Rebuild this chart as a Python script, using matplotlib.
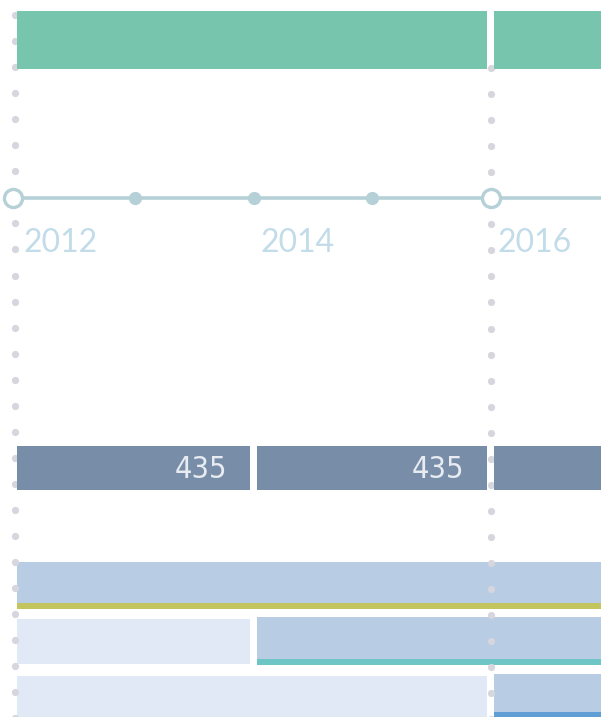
import numpy as np
import matplotlib.pyplot as plt
from matplotlib import font_manager

# timeline
tick_years = [2013, 2014, 2015]
major_years = [2012, 2016]
label_years = [2012, 2014, 2016]

# top green band
green_starts = [2012, 2016]
green_ends = [2016, 2017]

# dark band with values
dark_starts = [2012, 2014, 2016]
dark_ends = [2014, 2016, 2017]
dark_values = [435, 435, None]

# lower rows: (start, end, shade, stripe)
row_a = [(2012, 2017, 'mid', '#c2c45e')]
row_b = [(2012, 2014, 'light', None), (2014, 2017, 'mid', '#6ec5c6')]
row_c = [(2012, 2016, 'light', None), (2016, 2017, 'mid', '#5f9fd6')]

shades = {'light': '#e0e9f5', 'mid': '#b8cce4'}

PX_PER_YEAR = 118.5
X0 = 2012 - 16.5 / PX_PER_YEAR
GAP = 3.3 / PX_PER_YEAR

# narrow font for the values, if there is one
names = {f.name for f in font_manager.fontManager.ttflist}
narrow = [n for n in ['Liberation Sans Narrow', 'DejaVu Sans Condensed'] if n in names]
print(sorted(n for n in names if 'Narrow' in n or 'Condensed' in n))


def seg_bounds(start, end):
    left = start + GAP if start > 2012 else start + 0.004
    right = end - GAP
    return left, right


fig = plt.figure(figsize=(6.01, 7.17), dpi=100)
ax = fig.add_axes([0, 0, 1, 1])
ax.set_xlim(X0, X0 + 601 / PX_PER_YEAR)
ax.set_ylim(717, 0)
ax.axis('off')

# dotted year guides
for yr, y_start in [(2012 - 0.012, 15), (2016, 68)]:
    ys = np.arange(y_start, 720, 26.05)
    ax.plot([yr] * len(ys), ys, 'o', ms=5.2, color='#d6d6de', mec='none', zorder=1)

# green band
for s, e in zip(green_starts, green_ends):
    l, r = seg_bounds(s, e)
    ax.barh(40, r - l, left=l, height=58, color='#78c5ae', zorder=2)

# timeline axis
ax.plot([2012 - 0.03, X0 + 6], [198, 198], color='#b5d0d6', lw=2.6, zorder=3)
ax.plot(tick_years, [198] * len(tick_years), 'o', ms=9.5, color='#b5d0d6', mec='none', zorder=4)
ax.plot([2012 - 0.03, 2016], [198, 198], 'o', ls='none', ms=13, mfc='white',
        mec='#b5d0d6', mew=2.4, zorder=4)
for yr in label_years:
    ax.text(yr + 0.063, 243, str(yr), ha='left', va='center', fontsize=23,
            family='Lato', color='#c3dce9', zorder=4)

# dark band
for s, e, v in zip(dark_starts, dark_ends, dark_values):
    l, r = seg_bounds(s, e)
    ax.barh(468, r - l, left=l, height=44, color='#778da8', zorder=2)
    if v is not None:
        ax.text(e - 0.225, 470, str(v), ha='right', va='center', fontsize=22,
                family=narrow + ['DejaVu Sans'], stretch='condensed',
                color='#e8ecf2', zorder=3)

# lower rows
for row, top, bottom in [(row_a, 562, 609), (row_b, 617, 665), (row_c, 674, 718)]:
    for s, e, shade, stripe in row:
        l, r = seg_bounds(s, e)
        if stripe is None:
            ax.barh((top + bottom) / 2, r - l, left=l, height=bottom - top - 3,
                    color=shades[shade], zorder=0)
        else:
            ax.barh((top + bottom - 6) / 2, r - l, left=l, height=bottom - top - 6,
                    color=shades[shade], zorder=0)
            ax.barh(bottom - 3, r - l, left=l, height=6, color=stripe, zorder=0)

fig.savefig('out.png', dpi=100)
